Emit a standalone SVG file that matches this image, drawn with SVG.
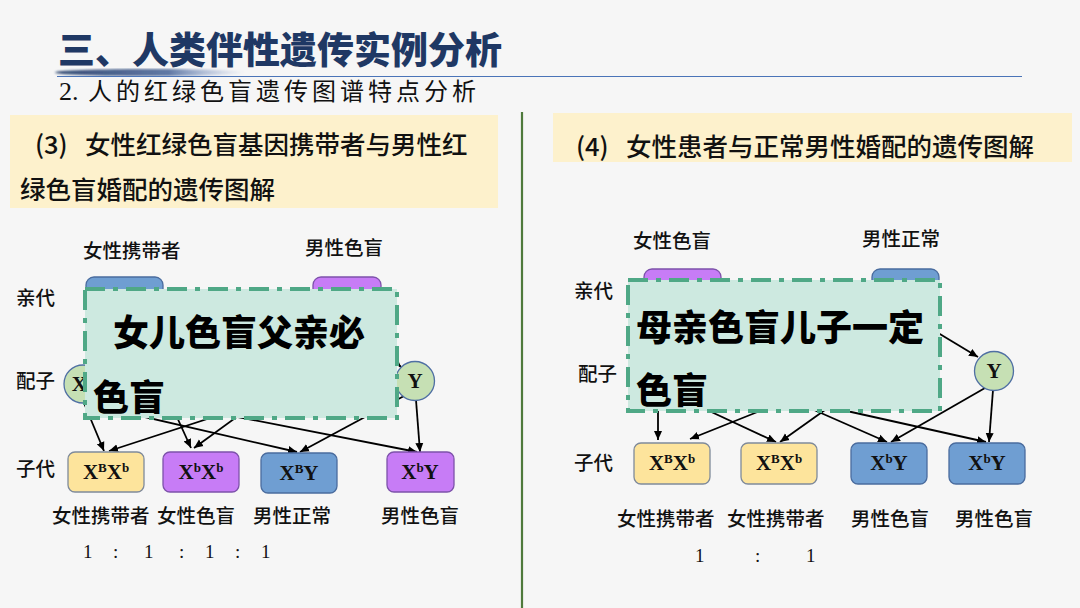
<svg xmlns="http://www.w3.org/2000/svg" width="1080" height="608" viewBox="0 0 1080 608">
<style>
.cjk{font-family:"Noto Sans CJK SC","Noto Sans",sans-serif;}
.title{font-family:"Noto Sans CJK SC",sans-serif;font-weight:900;font-size:37px;fill:#1f3864;}
.hdr{font-family:"Noto Sans CJK SC",sans-serif;font-weight:500;font-size:25.5px;fill:#111;}
.lbl{font-family:"Noto Sans CJK SC",sans-serif;font-weight:500;font-size:19.5px;fill:#111;}
.gene{font-family:"Liberation Serif","Times New Roman",serif;font-weight:bold;font-size:21px;fill:#111;text-anchor:middle;}
.ratio{font-family:"Liberation Serif",serif;font-size:19px;fill:#111;}
.note{font-family:"Noto Sans CJK SC",sans-serif;font-weight:900;font-size:36px;fill:#000;}
.blue{fill:#6f9ed2;stroke:#4a6c9e;stroke-width:1.3;}
.purple{fill:#c77cf6;stroke:#7d52aa;stroke-width:1.3;}
.yellow{fill:#fde49c;stroke:#7f8a9a;stroke-width:1.3;}
.gam{fill:#c6e0b4;stroke:#4f6fa3;stroke-width:1.3;}
.overlay{fill:#cde9e0;stroke:#4fa886;stroke-width:4;stroke-dasharray:20 8 5 8;}
.conn line{stroke:#000;stroke-width:1.8;marker-end:url(#ah);}
</style>
<defs>
<marker id="ah" markerWidth="10" markerHeight="10" refX="9" refY="5" orient="auto" markerUnits="userSpaceOnUse">
<path d="M0,1 L9,5 L0,9 Z" fill="#000"/>
</marker>
<linearGradient id="sw" x1="0" y1="0" x2="1" y2="0">
<stop offset="0" stop-color="#1f3864" stop-opacity="0.9"/>
<stop offset="0.6" stop-color="#2f4f8a" stop-opacity="0.75"/>
<stop offset="1" stop-color="#6f8cc8" stop-opacity="0"/>
</linearGradient>
<filter id="bl"><feGaussianBlur stdDeviation="1.2"/></filter>
</defs>

<rect width="1080" height="608" fill="#f6f6f6"/>

<!-- header -->
<g id="header">
<text class="title" x="58" y="64">三、人类伴性遗传实例分析</text>
<ellipse cx="150" cy="72.5" rx="95" ry="3.6" fill="url(#sw)" filter="url(#bl)"/>
<line x1="57" y1="76.5" x2="1022" y2="76.5" stroke="#4a74b8" stroke-width="1.2"/>
<text x="59" y="100" font-size="24" fill="#111"><tspan font-family="Liberation Serif,serif" font-size="26">2.</tspan><tspan class="cjk" x="88" letter-spacing="4">人的红绿色盲遗传图谱特点分析</tspan></text>
</g>

<!-- section headers -->
<g id="hdr-left">
<rect x="10" y="115" width="488" height="93" fill="#fdf1cc"/>
<text class="hdr" x="35" y="154">(3)</text>
<text class="hdr" x="85" y="154">女性红绿色盲基因携带者与男性红</text>
<text class="hdr" x="20" y="199">绿色盲婚配的遗传图解</text>
</g>
<g id="hdr-right">
<rect x="553" y="113" width="519" height="49" fill="#fdf1cc"/>
<text class="hdr" x="576" y="156">(4)</text>
<text class="hdr" x="626" y="156">女性患者与正常男性婚配的遗传图解</text>
</g>

<line id="divider" x1="522" y1="112" x2="522" y2="608" stroke="#4f7a3c" stroke-width="2.2"/>

<!-- left diagram labels -->
<g id="left-labels">
<text class="lbl" x="83" y="258">女性携带者</text>
<text class="lbl" x="305" y="255">男性色盲</text>
<text class="lbl" x="16" y="305">亲代</text>
<text class="lbl" x="16" y="388">配子</text>
<text class="lbl" x="16" y="476">子代</text>
<text class="lbl" x="52" y="523">女性携带者</text>
<text class="lbl" x="157" y="523">女性色盲</text>
<text class="lbl" x="253" y="523">男性正常</text>
<text class="lbl" x="381" y="523">男性色盲</text>
<text class="ratio" y="558"><tspan x="83">1</tspan><tspan x="113">:</tspan><tspan x="144">1</tspan><tspan x="179">:</tspan><tspan x="205">1</tspan><tspan x="235">:</tspan><tspan x="261">1</tspan></text>
</g>

<!-- left connectors -->
<g id="left-connectors" class="conn">
<line x1="350" y1="318" x2="401" y2="367"/>
<line x1="84" y1="403" x2="104" y2="451"/>
<line x1="256" y1="403" x2="109" y2="451"/>
<line x1="171" y1="404" x2="191" y2="448"/>
<line x1="256" y1="403" x2="194" y2="448"/>
<line x1="84" y1="403" x2="297" y2="452"/>
<line x1="404" y1="396" x2="300" y2="452"/>
<line x1="171" y1="404" x2="417" y2="452"/>
<line x1="416" y1="400" x2="420" y2="452"/>
</g>

<!-- left nodes -->
<g id="l-mother"><rect class="blue" x="86" y="277" width="77" height="40" rx="8"/></g>
<g id="l-father"><rect class="purple" x="313" y="277" width="68" height="40" rx="8"/></g>
<g id="l-gam-xb"><circle class="gam" cx="83" cy="384" r="19"/><text class="gene" x="83" y="391" font-size="18">X<tspan font-size="11" dy="-7">B</tspan></text></g>
<g id="l-gam-y"><circle class="gam" cx="415" cy="381" r="19.5"/><text class="gene" x="415" y="388" font-size="18">Y</text></g>
<g id="l-c1"><rect class="yellow" x="68" y="452" width="76" height="40" rx="7"/><text class="gene" x="106" y="479">X<tspan font-size="13" dy="-7">B</tspan><tspan dy="7">X</tspan><tspan font-size="13" dy="-7">b</tspan></text></g>
<g id="l-c2"><rect class="purple" x="163" y="452" width="76" height="40" rx="7"/><text class="gene" x="201" y="479">X<tspan font-size="13" dy="-7">b</tspan><tspan dy="7">X</tspan><tspan font-size="13" dy="-7">b</tspan></text></g>
<g id="l-c3"><rect class="blue" x="261" y="453" width="76" height="40" rx="7"/><text class="gene" x="299" y="480">X<tspan font-size="13" dy="-7">B</tspan><tspan dy="7">Y</tspan></text></g>
<g id="l-c4"><rect class="purple" x="387" y="452" width="67" height="40" rx="7"/><text class="gene" x="420" y="479">X<tspan font-size="13" dy="-7">b</tspan><tspan dy="7">Y</tspan></text></g>

<g id="l-note">
<rect class="overlay" x="85" y="289" width="312" height="129"/>
<text class="note" x="113" y="346">女儿色盲父亲必</text>
<text class="note" x="93" y="411">色盲</text>
</g>

<!-- right diagram labels -->
<g id="right-labels">
<text class="lbl" x="633" y="248">女性色盲</text>
<text class="lbl" x="862" y="246">男性正常</text>
<text class="lbl" x="574" y="298">亲代</text>
<text class="lbl" x="578" y="381">配子</text>
<text class="lbl" x="574" y="470">子代</text>
<text class="lbl" x="617" y="526">女性携带者</text>
<text class="lbl" x="727" y="526">女性携带者</text>
<text class="lbl" x="851" y="526">男性色盲</text>
<text class="lbl" x="955" y="526">男性色盲</text>
<text class="ratio" y="562"><tspan x="695">1</tspan><tspan x="755">:</tspan><tspan x="806">1</tspan></text>
</g>

<!-- right connectors -->
<g id="right-connectors" class="conn">
<line x1="900" y1="310" x2="978" y2="357"/>
<line x1="658" y1="395" x2="658" y2="440"/>
<line x1="800" y1="395" x2="690" y2="439"/>
<line x1="675" y1="395" x2="776" y2="442"/>
<line x1="846" y1="395" x2="780" y2="442"/>
<line x1="780" y1="395" x2="887" y2="442"/>
<line x1="985" y1="388" x2="891" y2="442"/>
<line x1="775" y1="395" x2="986" y2="442"/>
<line x1="993" y1="390" x2="989" y2="442"/>
</g>

<!-- right nodes -->
<g id="r-mother"><rect class="purple" x="644" y="269" width="77" height="40" rx="8"/></g>
<g id="r-father"><rect class="blue" x="872" y="269" width="67" height="40" rx="8"/></g>
<g id="r-gam-y"><circle class="gam" cx="994" cy="371" r="19.5"/><text class="gene" x="994" y="378" font-size="18">Y</text></g>
<g id="r-c1"><rect class="yellow" x="634" y="443" width="76" height="41" rx="7"/><text class="gene" x="672" y="470">X<tspan font-size="13" dy="-7">B</tspan><tspan dy="7">X</tspan><tspan font-size="13" dy="-7">b</tspan></text></g>
<g id="r-c2"><rect class="yellow" x="741" y="443" width="76" height="41" rx="7"/><text class="gene" x="779" y="470">X<tspan font-size="13" dy="-7">B</tspan><tspan dy="7">X</tspan><tspan font-size="13" dy="-7">b</tspan></text></g>
<g id="r-c3"><rect class="blue" x="851" y="443" width="76" height="41" rx="7"/><text class="gene" x="889" y="470">X<tspan font-size="13" dy="-7">b</tspan><tspan dy="7">Y</tspan></text></g>
<g id="r-c4"><rect class="blue" x="949" y="443" width="76" height="41" rx="7"/><text class="gene" x="987" y="470">X<tspan font-size="13" dy="-7">b</tspan><tspan dy="7">Y</tspan></text></g>

<g id="r-note">
<rect class="overlay" x="628" y="280" width="312" height="131"/>
<text class="note" x="636" y="341">母亲色盲儿子一定</text>
<text class="note" x="636" y="404">色盲</text>
</g>
</svg>
